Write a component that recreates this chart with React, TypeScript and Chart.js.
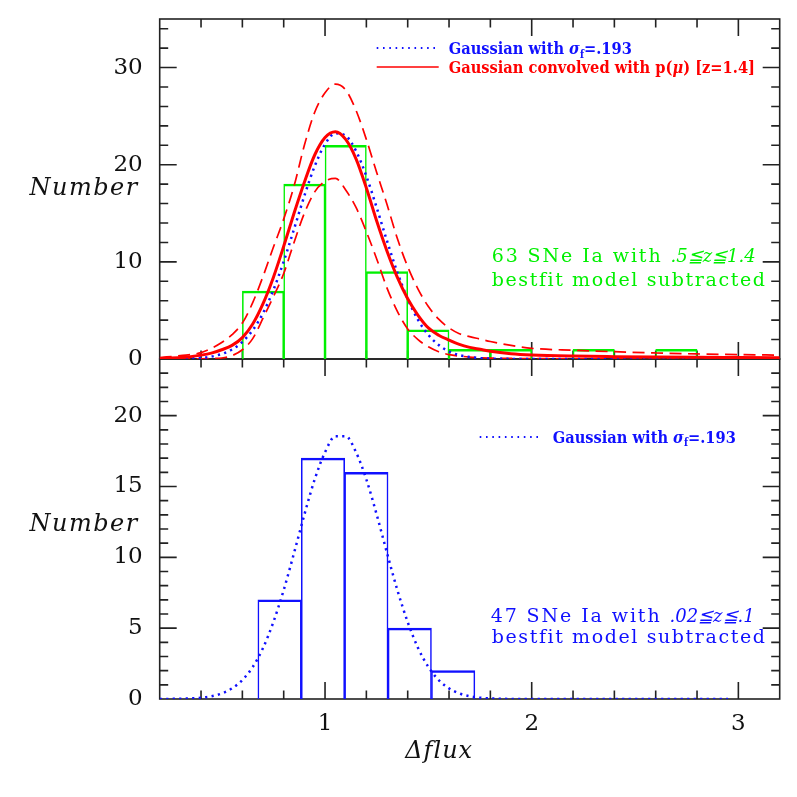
import React, { useEffect, useRef } from 'react';
import { Chart, registerables } from 'chart.js';

Chart.register(...registerables);

// ---------- data ----------
const topBinCenters = [0.5, 0.7, 0.9, 1.1, 1.3, 1.5, 1.7, 1.9, 2.1, 2.3, 2.5, 2.7];
const topBinCounts = [0, 7, 18, 22, 9, 3, 1, 1, 0, 1, 0, 1];

const bottomBinCenters = [0.78, 0.99, 1.2, 1.41, 1.62];
const bottomBinCounts = [7, 17, 16, 5, 2];

const topCurveX = [0.2, 0.3, 0.4, 0.45, 0.5, 0.55, 0.6, 0.65, 0.7, 0.75, 0.8, 0.85, 0.9, 0.95, 1.0, 1.05, 1.1, 1.15, 1.2, 1.25, 1.3, 1.35, 1.4, 1.45, 1.5, 1.55, 1.6, 1.65, 1.7, 1.75, 1.8, 1.9, 2.0, 2.2, 2.4, 2.6, 2.8, 3.0, 3.2];
const convolvedModel = [0.05, 0.15, 0.4, 0.6, 0.95, 1.4, 2.2, 3.6, 5.7, 8.4, 11.6, 15.0, 18.2, 21.0, 22.8, 23.4, 22.6, 20.6, 17.6, 14.2, 11.1, 8.4, 6.2, 4.5, 3.2, 2.45, 1.95, 1.5, 1.2, 1.0, 0.8, 0.55, 0.42, 0.3, 0.24, 0.2, 0.17, 0.15, 0.13];
const convolvedUpper = [0.15, 0.35, 0.65, 1.1, 1.7, 2.5, 3.7, 5.8, 8.5, 11.5, 14.4, 17.8, 22.0, 25.4, 27.4, 28.3, 27.7, 25.6, 22.6, 19.2, 15.9, 12.4, 9.5, 7.2, 5.4, 4.1, 3.2, 2.6, 2.3, 2.05, 1.8, 1.4, 1.1, 0.9, 0.75, 0.62, 0.52, 0.45, 0.4];
const convolvedLower = [0, 0, 0.02, 0.05, 0.1, 0.35, 0.95, 2.1, 4.2, 6.4, 8.8, 12.0, 15.0, 17.2, 18.3, 18.6, 17.4, 15.6, 13.1, 10.3, 7.3, 4.9, 3.1, 2.0, 1.25, 0.75, 0.45, 0.3, 0.2, 0.14, 0.1, 0.06, 0.04, 0.02, 0.01, 0, 0, 0, 0];
const gaussianTop = [0, 0.02, 0.12, 0.25, 0.52, 0.98, 1.76, 2.97, 4.73, 7.1, 10.04, 13.37, 16.79, 19.85, 22.12, 23.23, 22.98, 21.42, 18.82, 15.58, 12.15, 8.92, 6.18, 4.03, 2.48, 1.44, 0.78, 0.4, 0.2, 0.09, 0.04, 0.01, 0, 0, 0, 0, 0, null, null];

const bottomCurveX = [0.2, 0.3, 0.4, 0.45, 0.5, 0.55, 0.6, 0.65, 0.7, 0.75, 0.8, 0.85, 0.9, 0.95, 1.0, 1.05, 1.1, 1.15, 1.2, 1.25, 1.3, 1.35, 1.4, 1.45, 1.5, 1.55, 1.6, 1.65, 1.7, 1.75, 1.85, 1.95, 2.2, 2.6, 2.95];
const gaussianBottom = [0, 0.02, 0.09, 0.19, 0.39, 0.75, 1.34, 2.26, 3.6, 5.43, 7.69, 10.3, 13.01, 15.5, 17.42, 18.55, 18.55, 17.42, 15.5, 13.01, 10.3, 7.69, 5.43, 3.6, 2.26, 1.34, 0.75, 0.39, 0.19, 0.09, 0.02, 0, 0, 0, 0];

const xRange = [0.2, 3.2];
const xMajorTicks = [1, 2, 3];
const xMinorStep = 0.2;
const xMajorStep = 1;

const topYRange = [0, 35];
const topYMajorTicks = [0, 10, 20, 30];
const topYMinorStep = 2;
const topYMajorStep = 10;

const bottomYRange = [0, 24];
const bottomYMajorTicks = [0, 5, 10, 15, 20];
const bottomYMinorStep = 1;
const bottomYMajorStep = 5;

// ---------- styling ----------
const GREEN = '#00f000';
const BLUE = '#1010ff';
const RED = '#ff0000';
const INK = '#222';
const SERIF = '"DejaVu Serif", serif';

const tickFont = { family: 'DejaVu Serif', size: 23 };

type Part = { text: string; font: string; dy?: number; ls?: number };

function drawParts(ctx: CanvasRenderingContext2D, x: number, y: number, parts: Part[], color: string, sx = 1) {
  ctx.save();
  ctx.translate(x, y);
  ctx.scale(sx, 1);
  ctx.fillStyle = color;
  ctx.textAlign = 'left';
  ctx.textBaseline = 'alphabetic';
  let cx = 0;
  for (const p of parts) {
    ctx.font = p.font;
    (ctx as any).letterSpacing = `${p.ls || 0}px`;
    ctx.fillText(p.text, cx, p.dy || 0);
    cx += ctx.measureText(p.text).width;
  }
  ctx.restore();
}

function panelTicks(ctx: CanvasRenderingContext2D, xs: any, ys: any, left: number, right: number,
  yMin: number, yMax: number, yMinor: number, yMajor: number) {
  const top = ys.top;
  const bottom = ys.bottom;
  const major = 17;
  const minor = 8.5;
  ctx.strokeRect(left, top, right - left, bottom - top);
  ctx.beginPath();
  const kx0 = Math.ceil(xRange[0] / xMinorStep - 1e-6);
  const kx1 = Math.floor(xRange[1] / xMinorStep + 1e-6);
  for (let k = kx0; k <= kx1; k++) {
    const v = k * xMinorStep;
    if (Math.abs(v - xRange[0]) < 1e-6 || Math.abs(v - xRange[1]) < 1e-6) continue;
    const isMajor = Math.abs(v / xMajorStep - Math.round(v / xMajorStep)) < 1e-6;
    const len = isMajor ? major : minor;
    const px = xs.getPixelForValue(v);
    ctx.moveTo(px, bottom); ctx.lineTo(px, bottom - len);
    ctx.moveTo(px, top); ctx.lineTo(px, top + len);
  }
  const ky0 = Math.ceil(yMin / yMinor - 1e-6);
  const ky1 = Math.floor(yMax / yMinor + 1e-6);
  for (let k = ky0; k <= ky1; k++) {
    const v = k * yMinor;
    if (Math.abs(v - yMin) < 1e-6 || Math.abs(v - yMax) < 1e-6) continue;
    const isMajor = Math.abs(v / yMajor - Math.round(v / yMajor)) < 1e-6;
    const len = isMajor ? major : minor;
    const py = ys.getPixelForValue(v);
    ctx.moveTo(left, py); ctx.lineTo(left + len, py);
    ctx.moveTo(right, py); ctx.lineTo(right - len, py);
  }
  ctx.stroke();
}

const framePlugin = {
  id: 'frameTicks',
  beforeDatasetsDraw(chart: any) {
    const { ctx, chartArea, scales } = chart;
    ctx.save();
    ctx.strokeStyle = INK;
    ctx.lineWidth = 1.6;
    panelTicks(ctx, scales.x, scales.yTop, chartArea.left, chartArea.right, topYRange[0], topYRange[1], topYMinorStep, topYMajorStep);
    panelTicks(ctx, scales.x, scales.yBot, chartArea.left, chartArea.right, bottomYRange[0], bottomYRange[1], bottomYMinorStep, bottomYMajorStep);
    ctx.restore();
  },
  afterDraw(chart: any) {
    const { ctx, chartArea, scales } = chart;
    const L = chartArea.left;
    const yTop = scales.yTop;
    const yBot = scales.yBot;
    const T = yTop.top;

    const legFont = `bold 17px ${SERIF}`;
    const legItal = `italic bold 17px ${SERIF}`;
    const legSub = `bold 11px ${SERIF}`;
    const legScale = 0.86;

    // legend line samples
    ctx.save();
    ctx.lineWidth = 1.8;
    ctx.strokeStyle = BLUE;
    ctx.setLineDash([1.6, 4.7]);
    ctx.beginPath();
    ctx.moveTo(L + 217, T + 29); ctx.lineTo(L + 279, T + 29);
    ctx.stroke();
    ctx.setLineDash([]);
    ctx.strokeStyle = RED;
    ctx.lineWidth = 1.4;
    ctx.beginPath();
    ctx.moveTo(L + 217, T + 48); ctx.lineTo(L + 279, T + 48);
    ctx.stroke();
    ctx.strokeStyle = BLUE;
    ctx.lineWidth = 1.8;
    ctx.setLineDash([1.6, 4.7]);
    ctx.beginPath();
    ctx.moveTo(L + 320, yBot.top + 78); ctx.lineTo(L + 382, yBot.top + 78);
    ctx.stroke();
    ctx.restore();

    const gaussParts: Part[] = [
      { text: 'Gaussian with ', font: legFont },
      { text: 'σ', font: legItal },
      { text: 'f', font: legSub, dy: 3.5 },
      { text: '=.193', font: legFont },
    ];
    drawParts(ctx, L + 289, T + 35.3, gaussParts, BLUE, legScale);
    drawParts(ctx, L + 289, T + 54.3, [
      { text: 'Gaussian convolved with p(', font: legFont },
      { text: 'μ', font: legItal },
      { text: ') [z=1.4]', font: legFont },
    ], RED, legScale);
    drawParts(ctx, L + 393, yBot.top + 83.7, gaussParts, BLUE, legScale);

    // annotations
    const annFont = `19px ${SERIF}`;
    const annItal = `italic 18px ${SERIF}`;
    drawParts(ctx, L + 332, T + 243.3, [
      { text: '63 SNe Ia with ', font: annFont, ls: 1.9 },
      { text: '.5≦z≦1.4', font: annItal, ls: 0 },
    ], GREEN);
    drawParts(ctx, L + 332, T + 267, [
      { text: 'bestfit model subtracted', font: annFont, ls: 1.6 },
    ], GREEN);
    drawParts(ctx, L + 331, yBot.top + 262.7, [
      { text: '47 SNe Ia with ', font: annFont, ls: 1.9 },
      { text: '.02≦z≦.1', font: annItal, ls: 0 },
    ], BLUE);
    drawParts(ctx, L + 332, yBot.top + 284.3, [
      { text: 'bestfit model subtracted', font: annFont, ls: 1.6 },
    ], BLUE);

    // axis titles
    ctx.save();
    ctx.fillStyle = '#111';
    ctx.font = `italic 24px ${SERIF}`;
    (ctx as any).letterSpacing = '1.5px';
    ctx.textAlign = 'right';
    ctx.textBaseline = 'alphabetic';
    ctx.fillText('Number', L - 21, yTop.top + 176);
    ctx.fillText('Number', L - 21, yBot.top + 172);
    ctx.textAlign = 'center';
    (ctx as any).letterSpacing = '1px';
    ctx.fillText('Δflux', L + 279.5, chartArea.bottom + 59);
    ctx.restore();
  },
};

function lineSet(xs: number[], ys: (number | null)[], xAxisID: string, yAxisID: string, color: string, width: number, dash: number[], order: number) {
  return {
    type: 'line' as const,
    data: xs.map((x, i) => ({ x, y: ys[i] })),
    xAxisID,
    yAxisID,
    borderColor: color,
    borderWidth: width,
    borderDash: dash,
    borderCapStyle: 'butt' as const,
    pointRadius: 0,
    fill: false,
    cubicInterpolationMode: 'monotone' as const,
    spanGaps: false,
    order,
  };
}

function barSet(xs: number[], ys: number[], xAxisID: string, yAxisID: string, color: string) {
  return {
    type: 'bar' as const,
    data: xs.map((x, i) => ({ x, y: ys[i] })),
    xAxisID,
    yAxisID,
    backgroundColor: 'rgba(0,0,0,0)',
    borderColor: color,
    borderWidth: { top: 1.8, left: 0.9, right: 0.9, bottom: 0 },
    borderSkipped: false,
    barPercentage: 1,
    categoryPercentage: 1,
    grouped: false,
    order: 10,
  };
}

const noPadY = (s: any) => { s.width = 151.7; s.paddingTop = 0; s.paddingBottom = 0; };

export default function App() {
  const canvasRef = useRef<HTMLCanvasElement>(null);

  useEffect(() => {
    if (!canvasRef.current) return;
    const hideTicks = { display: false, drawTicks: false };
    const chart = new Chart(canvasRef.current, {
      type: 'line',
      data: {
        datasets: [
          lineSet(topCurveX, convolvedModel, 'xTop', 'yTop', RED, 3, [], 1),
          lineSet(topCurveX, gaussianTop, 'xTop', 'yTop', BLUE, 2.5, [2.2, 4.3], 2),
          lineSet(topCurveX, convolvedUpper, 'xTop', 'yTop', RED, 1.7, [12, 6.5], 3),
          lineSet(topCurveX, convolvedLower, 'xTop', 'yTop', RED, 1.7, [12, 6.5], 3),
          lineSet(bottomCurveX, gaussianBottom, 'x', 'yBot', BLUE, 2.5, [2.2, 4.3], 2),
          barSet(topBinCenters, topBinCounts, 'xTop', 'yTop', GREEN),
          barSet(bottomBinCenters, bottomBinCounts, 'x', 'yBot', BLUE),
        ] as any,
      },
      options: {
        animation: false,
        responsive: false,
        events: [],
        layout: { padding: { top: 11, right: 9.3, left: 0, bottom: 0 } },
        plugins: { legend: { display: false }, tooltip: { enabled: false } },
        scales: {
          x: {
            type: 'linear',
            position: 'bottom',
            min: xRange[0],
            max: xRange[1],
            offset: false,
            grid: hideTicks,
            border: { display: false },
            ticks: { padding: 11, font: tickFont, color: '#111', maxRotation: 0, autoSkip: false },
            afterBuildTicks: (s: any) => { s.ticks = xMajorTicks.map((v) => ({ value: v })); },
            afterFit: (s: any) => { s.height = 90; s.paddingLeft = 0; s.paddingRight = 0; },
          },
          xTop: {
            type: 'linear',
            position: 'top',
            display: false,
            min: xRange[0],
            max: xRange[1],
            offset: false,
            afterBuildTicks: (s: any) => { s.ticks = xMajorTicks.map((v) => ({ value: v })); },
          },
          yBot: {
            type: 'linear',
            position: 'left',
            stack: 'panels',
            stackWeight: 1,
            min: bottomYRange[0],
            max: bottomYRange[1],
            offset: false,
            grid: hideTicks,
            border: { display: false },
            ticks: { padding: 17, font: tickFont, color: '#111', autoSkip: false },
            afterBuildTicks: (s: any) => { s.ticks = bottomYMajorTicks.map((v) => ({ value: v })); },
            afterFit: noPadY,
          },
          yTop: {
            type: 'linear',
            position: 'left',
            stack: 'panels',
            stackWeight: 1,
            min: topYRange[0],
            max: topYRange[1],
            offset: false,
            grid: hideTicks,
            border: { display: false },
            ticks: { padding: 17, font: tickFont, color: '#111', autoSkip: false },
            afterBuildTicks: (s: any) => { s.ticks = topYMajorTicks.map((v) => ({ value: v })); },
            afterFit: noPadY,
          },
        } as any,
      },
      plugins: [framePlugin],
    });
    return () => chart.destroy();
  }, []);

  return (
    <div style={{ width: 781, height: 781 }}>
      <canvas ref={canvasRef} width={781} height={781} style={{ display: 'block', width: 781, height: 781 }} />
    </div>
  );
}
